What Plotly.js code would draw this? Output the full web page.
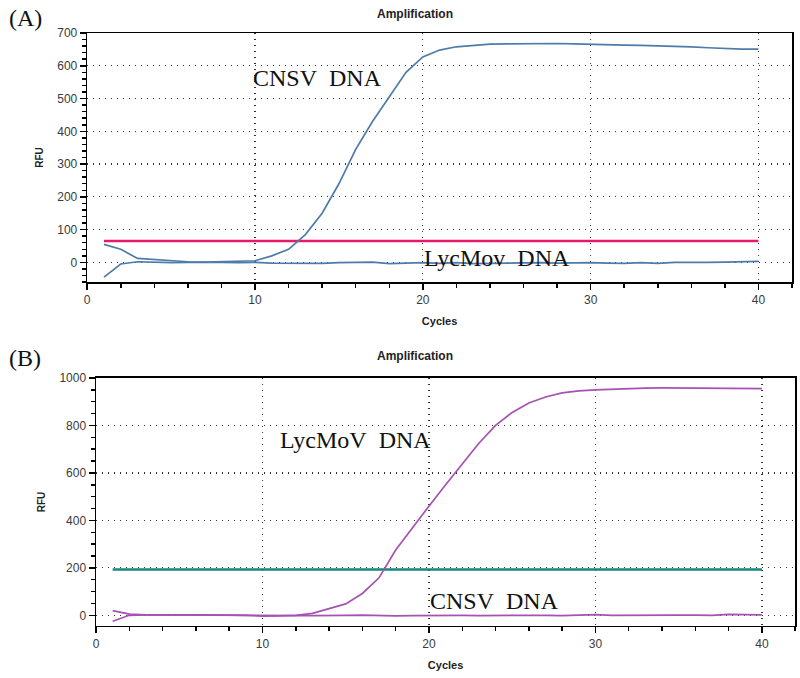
<!DOCTYPE html>
<html>
<head>
<meta charset="utf-8">
<script src="https://cdn.plot.ly/plotly-3.0.1.min.js"></script>
<style>html,body{margin:0;padding:0;background:#fff;}#chart{width:800px;height:678px;}</style>
</head>
<body>
<div id="chart"></div>
<script>
// ---- data ----
const cycles = [1,2,3,4,5,6,7,8,9,10,11,12,13,14,15,16,17,18,19,20,21,22,23,24,25,26,27,28,29,30,31,32,33,34,35,36,37,38,39,40];

// Panel A (CNSV assay)
const aCNSV = [55,40,12,8,4,2,1,2,3,5,20,40,85,150,240,345,430,505,580,627,648,658,663,666,667,668,669,668,667,665,664,663,662,661,660,658,655,652,651,651];
const aLycMoV = [-45,-5,2,0,-1,0,1,0,-1,0,-2,-3,-2,-3,-1,0,1,-4,-3,-1,-3,-1,-4,-3,-2,-3,-1,-2,-1,-1,-2,-3,-1,-3,0,-1,0,1,3,3];
const aThreshold = 65;

// Panel B (LycMoV assay)
const bLycMoV = [20,5,2,2,3,4,2,1,0,-3,-2,0,8,28,48,92,158,275,370,460,550,640,725,800,855,895,920,937,946,950,953,956,957,958,958,957,956,955,955,955];
const bCNSV = [-25,0,2,3,4,2,1,0,-1,-2,-3,-1,-1,-2,0,1,-2,-2,-1,0,1,0,-1,0,0,1,0,-1,0,3,0,1,0,0,1,1,0,4,3,2];
const bThreshold = 193;

const thrX = [1, 40];
const xTickVals = [0,10,20,30,40];
const aTickVals = [0,100,200,300,400,500,600,700];
const bTickVals = [0,200,400,600,800,1000];

// ---- styles ----
const blue = '#4d7cab';
const pink = '#e6196b';
const purple = '#a552b3';
const teal = '#16887a';

const traces = [
  {x: thrX, y: [aThreshold, aThreshold], xaxis:'x', yaxis:'y', mode:'lines', line:{color:pink, width:2.5}, hoverinfo:'skip'},
  {x: cycles, y: aLycMoV, xaxis:'x', yaxis:'y', mode:'lines', line:{color:blue, width:1.7}},
  {x: cycles, y: aCNSV, xaxis:'x', yaxis:'y', mode:'lines', line:{color:blue, width:1.7}},
  {x: thrX, y: [bThreshold, bThreshold], xaxis:'x2', yaxis:'y2', mode:'lines', line:{color:teal, width:2.5}, hoverinfo:'skip'},
  {x: cycles, y: bCNSV, xaxis:'x2', yaxis:'y2', mode:'lines', line:{color:purple, width:1.7}},
  {x: cycles, y: bLycMoV, xaxis:'x2', yaxis:'y2', mode:'lines', line:{color:purple, width:1.7}}
];

const tickFont = {family:'Liberation Sans, Arial, sans-serif', size:12, color:'#3a3a3a'};
const titleFont = {family:'Liberation Sans, Arial, sans-serif', size:11, color:'#222'};

function xAxis(domain, anchor) {
  return {
    domain: domain, anchor: anchor, range:[0,42], tickvals: xTickVals,
    showline:true, linecolor:'#000', linewidth:1.5, mirror:true,
    ticks:'outside', ticklen:6, tickcolor:'#000', tickwidth:1.5,
    minor:{dtick:2, ticks:'outside', ticklen:4, tickcolor:'#000', showgrid:false},
    showgrid:true, gridcolor:'#333', griddash:'1px,5px', gridwidth:1.2,
    zeroline:false, tickfont: tickFont,
    title:{text:'<b>Cycles</b>', font:titleFont, standoff:11}
  };
}
function yAxis(domain, anchor, range, vals, minorStep) {
  return {
    domain: domain, anchor: anchor, range: range, tickvals: vals,
    showline:true, linecolor:'#000', linewidth:1.5, mirror:true,
    ticks:'outside', ticklen:6, tickcolor:'#000', tickwidth:1.5,
    minor:{dtick:minorStep, ticks:'outside', ticklen:4, tickcolor:'#000', showgrid:false},
    showgrid:true, gridcolor:'#333', griddash:'1px,5px', gridwidth:1.2,
    zeroline:false, tickfont: tickFont,
    title:{text:'<b>RFU</b>', font:{family:'Liberation Sans, Arial, sans-serif', size:10, color:'#222'}, standoff:12}
  };
}

const serif = {family:'Liberation Serif, Times New Roman, serif', size:24, color:'#111'};
const nb = '\u00a0\u00a0';
const titleAnnFont = {family:'Liberation Sans, Arial, sans-serif', size:12, color:'#222'};

function ann(text, xref, yref, x, y, font) {
  return {text:text, xref:xref, yref:yref, x:x, y:y, xanchor:'center', yanchor:'middle', showarrow:false, font:font};
}

const layout = {
  width:800, height:678, margin:{l:0,r:0,t:0,b:0},
  paper_bgcolor:'#fff', plot_bgcolor:'#fff', showlegend:false,
  xaxis: xAxis([0.109, 0.99], 'y'),
  yaxis: yAxis([0.584, 0.9513], 'x', [-60, 700], aTickVals, 20),
  xaxis2: xAxis([0.12, 0.994], 'y2'),
  yaxis2: yAxis([0.0767, 0.4425], 'x2', [-45, 1000], bTickVals, 50),
  annotations: [
    ann('<b>Amplification</b>', 'paper', 'paper', 415/800, 1-14/678, titleAnnFont),
    ann('<b>Amplification</b>', 'paper', 'paper', 415/800, 1-356/678, titleAnnFont),
    ann('(A)', 'paper', 'paper', 25/800, 1-18/678, serif),
    ann('(B)', 'paper', 'paper', 25/800, 1-358/678, serif),
    ann('CNSV'+nb+'DNA', 'x', 'y', 13.75, 563, serif),
    ann('LycMov'+nb+'DNA', 'x', 'y', 24.4, 12, serif),
    ann('LycMoV'+nb+'DNA', 'x2', 'y2', 15.6, 738, serif),
    ann('CNSV'+nb+'DNA', 'x2', 'y2', 23.95, 59, serif)
  ]
};

Plotly.newPlot('chart', traces, layout, {displayModeBar:false, staticPlot:true});
</script>
</body>
</html>
